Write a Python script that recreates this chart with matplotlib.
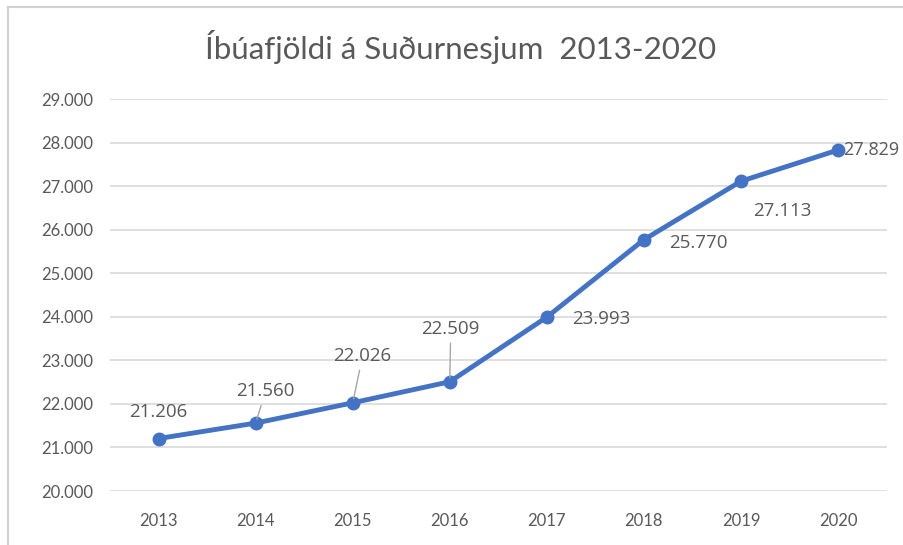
import matplotlib.pyplot as plt
from matplotlib.lines import Line2D

years = ['2013', '2014', '2015', '2016', '2017', '2018', '2019', '2020']
population = [21206, 21560, 22026, 22509, 23993, 25770, 27113, 27829]
value_labels = ['21.206', '21.560', '22.026', '22.509', '23.993', '25.770', '27.113', '27.829']
# label offsets in pixels (dx, dy) and whether a leader line is drawn
offsets = [(0, 27), (10, 32), (10, 47), (1, 53), (54, -2), (54, -3), (41, -30), (5, 0)]
leaders = [False, True, True, True, False, False, False, False]
aligns = ['center', 'center', 'center', 'center', 'center', 'center', 'center', 'left']

fig = plt.figure(figsize=(9.04, 5.45), dpi=100)
ax = fig.add_axes([0.1217, 0.099, 0.859, 0.7193])

grey = '#595959'
blue = '#4472C4'
xs = list(range(len(years)))

ax.plot(xs, population, color=blue, linewidth=3.5, marker='o', markersize=9,
        solid_capstyle='round', zorder=3, clip_on=False)

for i, lab in enumerate(value_labels):
    dx, dy = offsets[i]
    kw = {}
    if leaders[i]:
        kw['arrowprops'] = dict(arrowstyle='-', color='#a6a6a6', lw=1.0,
                                shrinkA=2, shrinkB=3)
    ax.annotate(lab, (xs[i], population[i]), xytext=(dx, dy),
                textcoords='offset pixels', ha=aligns[i], va='center',
                fontsize=13.5 if i < 7 else 13, color=grey, family='Open Sans',
                annotation_clip=False, **kw)

ax.set_xlim(-0.5, 7.5)
ax.set_ylim(20000, 29000)
ax.set_yticks(range(20000, 29001, 1000))
ax.set_yticklabels([f'{v // 1000}.000' for v in range(20000, 29001, 1000)])
ax.set_xticks(xs)
ax.set_xticklabels(years)
ax.grid(axis='y', color='#d9d9d9', linewidth=1.2)
ax.set_axisbelow(True)
for s in ax.spines.values():
    s.set_visible(False)
ax.tick_params(length=0, labelsize=12, colors=grey, pad=12)
ax.tick_params(axis='x', pad=16)
for t in ax.get_xticklabels() + ax.get_yticklabels():
    t.set_family('Lato')

fig.text(0.509, 0.913, 'Íbúafjöldi á Suðurnesjum  2013-2020', ha='center', va='center',
         fontsize=22.5, color=grey, family='Lato')

# chart frame (left and top edges visible)
fig.add_artist(Line2D([7.5 / 904, 7.5 / 904], [0, 1 - 7 / 545], color='#d0d0d0', lw=1.5))
fig.add_artist(Line2D([7.5 / 904, 1], [1 - 7 / 545, 1 - 7 / 545], color='#d0d0d0', lw=1.5))

fig.savefig('out.png', dpi=100)
